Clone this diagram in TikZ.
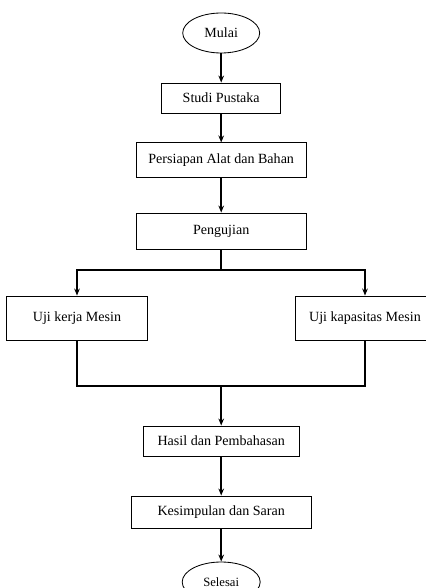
\documentclass[tikz,border=0pt]{standalone}
\usepackage{fontspec}
\setmainfont{Liberation Serif}
\usetikzlibrary{arrows.meta,shapes.geometric}
\begin{document}
\begin{tikzpicture}[
  box/.style={draw,line width=0.6pt,inner sep=1pt},
  term/.style={draw,ellipse,line width=0.6pt,inner sep=1pt},
  arr/.style={line width=1.2pt,-{Stealth[length=5pt,width=4pt]}},
  ln/.style={line width=1.2pt}]
\useasboundingbox (0,0) rectangle (10.625,-14.7);

\node[term,minimum width=1.925cm,minimum height=1cm] (mulai) at (5.53,-0.825) {Mulai};
\node[box,minimum width=2.975cm,minimum height=0.75cm] (studi) at (5.53,-2.45) {Studi Pustaka};
\node[box,minimum width=4.25cm,minimum height=0.875cm] (alat) at (5.53,-4.01) {Persiapan Alat dan Bahan};
\node[box,minimum width=4.25cm,minimum height=0.9cm] (uji) at (5.53,-5.775) {Pengujian};

\node[box,minimum width=3.525cm,minimum height=1.1cm] (kerja) at (1.925,-7.95) {Uji kerja Mesin};
\node[box,minimum width=3.5cm,minimum height=1.1cm] (kapasitas) at (9.125,-7.95) {Uji kapasitas Mesin};

\node[box,minimum width=3.9cm,minimum height=0.75cm] (hasil) at (5.53,-11.025) {Hasil dan Pembahasan};
\node[box,minimum width=4.5cm,minimum height=0.8cm] (saran) at (5.53,-12.8) {Kesimpulan dan Saran};
\node[term,minimum width=1.95cm,minimum height=1cm,font=\small] (selesai) at (5.53,-14.55) {Selesai};

\coordinate (split) at (5.53,-6.75);
\coordinate (merge) at (5.53,-9.65);

\draw[arr] (mulai) -- (studi);
\draw[arr] (studi) -- (alat);
\draw[arr] (alat) -- (uji);
\draw[ln] (uji) -- (split);
\draw[arr] (split) -| (kerja);
\draw[arr] (split) -| (kapasitas);
\draw[ln] (kerja) |- (merge);
\draw[ln] (kapasitas) |- (merge);
\draw[arr] (merge) -- (hasil);
\draw[arr] (hasil) -- (saran);
\draw[arr] (saran) -- (selesai);
\end{tikzpicture}
\end{document}
